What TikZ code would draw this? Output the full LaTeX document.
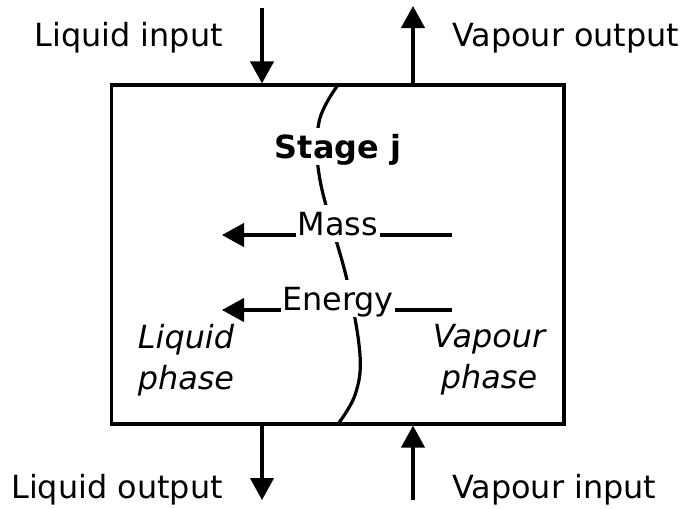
\documentclass[tikz,border=0pt]{standalone}
\usepackage{fontspec}
\setmainfont{DejaVu Sans}
\usetikzlibrary{arrows.meta}

\tikzset{
  pipe/.style={line width=2.4pt},
  flow/.style={pipe,-{Triangle[length=16.5pt,width=17.5pt]}},
  tag/.style={anchor=base,inner sep=0pt,font=\fontsize{23.9}{31}\selectfont},
  gap/.style={fill=white,inner xsep=1pt,inner ysep=0pt,text height=22.2pt,text depth=5.6pt},
  phase/.style={align=center,font=\fontsize{23.9}{30.75}\selectfont\itshape}
}

\begin{document}
\begin{tikzpicture}[x=0.75pt,y=-0.75pt]
  \useasboundingbox (0,0) rectangle (684,508);

  % the stage and the interface between the two phases
  \node[draw,pipe,minimum width=339.4pt,minimum height=254.25pt,inner sep=0pt] (stage) at (337.75,254.5) {};
  \draw[pipe] plot[smooth,tension=0.6] coordinates
    {(338,85) (319,122) (320,180) (347,280) (360,355) (355,395) (338,424)};

  % streams in and out
  \coordinate (liqIn) at (262,8);
  \coordinate (vapOut) at (413,6);
  \coordinate (liqOut) at (262,500);
  \coordinate (vapIn) at (413,500);
  \draw[flow] (liqIn) -- (liqIn |- stage.north);
  \draw[flow] (vapOut |- stage.north) -- (vapOut);
  \draw[flow] (liqOut |- stage.south) -- (liqOut);
  \draw[flow] (vapIn) -- (vapIn |- stage.south);

  \node[tag,anchor=base east] (liqInTxt) at (223,46) {Liquid input};
  \node[tag,anchor=base west] (vapOutTxt) at (452,46) {Vapour output};
  \node[tag,anchor=base east] (liqOutTxt) at (223,498) {Liquid output};
  \node[tag,anchor=base west] (vapInTxt) at (452,498) {Vapour input};

  \node[tag,gap,font=\fontsize{23.9}{31}\selectfont\bfseries] (title) at (338,158) {Stage j};

  % transfer from the vapour to the liquid
  \foreach \y/\name/\txt in {235/mass/Mass,310/energy/Energy}{
    \coordinate (\name R) at (452,\y);
    \coordinate (\name L) at (222,\y);
    \node[tag,gap] (\name) at (338,\y) {\txt};
    \draw[pipe] (\name R) -- (\name.base east);
    \draw[flow] (\name.base west) -- (\name L);
  }

  \node[phase] (liqPhase) at (186,360) {Liquid\\phase};
  \node[phase] (vapPhase) at (489,360) {Vapour\\phase};
\end{tikzpicture}
\end{document}
